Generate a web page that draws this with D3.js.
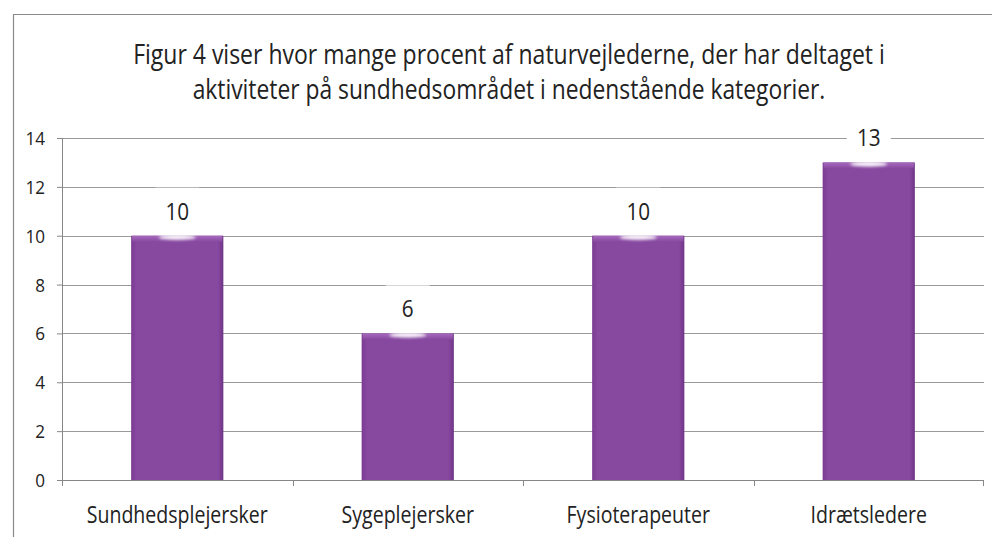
<!DOCTYPE html>
<html>
<head>
<meta charset="utf-8">
<script src="https://cdn.jsdelivr.net/npm/d3@7"></script>
<style>
  html, body { margin: 0; padding: 0; background: #fff; }
  text { font-family: 'Open Sans', 'DejaVu Sans', sans-serif; fill: #222; }
</style>
</head>
<body>
<div id="chart"></div>
<script>
// Data.
var categories = ['Sundhedsplejersker', 'Sygeplejersker', 'Fysioterapeuter', 'Idrætsledere'];
var values = [10, 6, 10, 13];
var yTicks = [0, 2, 4, 6, 8, 10, 12, 14];
var titleLines = [
    'Figur 4 viser hvor mange procent af naturvejlederne, der har deltaget i',
    'aktiviteter på sundhedsområdet i nedenstående kategorier.'
];

var W = 992, H = 537;
var margin = {left: 62, right: 8, top: 138, bottom: 57};
var width = W - margin.left - margin.right,
    height = H - margin.top - margin.bottom;

// Squeeze a text horizontally (around its x) so it looks like the narrow font of the original.
function narrow(sel, k){
    sel.each(function(){
        var t = d3.select(this);
        var x0 = +t.attr('x') || 0, y0 = +t.attr('y') || 0;
        var f = typeof k === 'function' ? k.call(this, this.getComputedTextLength()) : k;
        t.attr('x', 0).attr('y', 0)
         .attr('transform', 'translate(' + x0 + ',' + y0 + ') scale(' + f + ',1)');
    });
}

var svg = d3.select('#chart')
    .append('svg')
        .attr('width', W)
        .attr('height', H);

// Gradients and blur for the bars.
var defs = svg.append('defs');
var side = defs.append('linearGradient').attr('id', 'barSide')
    .attr('x1', '0%').attr('x2', '100%').attr('y1', '0%').attr('y2', '0%');
side.append('stop').attr('offset', '0%').attr('stop-color', '#7a3c91');
side.append('stop').attr('offset', '6%').attr('stop-color', '#8749a0');
side.append('stop').attr('offset', '94%').attr('stop-color', '#8749a0');
side.append('stop').attr('offset', '100%').attr('stop-color', '#6f3486');

var cap = defs.append('linearGradient').attr('id', 'barCap')
    .attr('x1', '0%').attr('x2', '0%').attr('y1', '0%').attr('y2', '100%');
cap.append('stop').attr('offset', '0%').attr('stop-color', '#a76bbd');
cap.append('stop').attr('offset', '100%').attr('stop-color', '#8749a0');

defs.append('filter').attr('id', 'soft')
    .attr('x', '-50%').attr('y', '-100%').attr('width', '200%').attr('height', '300%')
    .append('feGaussianBlur').attr('stdDeviation', 1.6);

// Outer frame.
svg.append('path')
    .attr('d', 'M13.5,' + H + 'V14.5H' + W)
    .attr('fill', 'none')
    .attr('stroke', '#8a8a8a')
    .attr('stroke-width', 1.2);

// Title, squeezed to the widths of the original lines.
var titleWidths = [752, 633];
svg.selectAll('.title')
    .data(titleLines)
    .enter().append('text')
        .attr('class', 'title')
        .attr('x', 509)
        .attr('y', function(d, i){ return 64 + i * 35; })
        .attr('text-anchor', 'middle')
        .attr('font-size', '27px')
        .text(function(d){ return d; })
        .each(function(d, i){
            d3.select(this).call(narrow, function(len){ return titleWidths[i] / len; });
        });

var g = svg.append('g')
    .attr('transform', 'translate(' + margin.left + ',' + margin.top + ')');

var x = d3.scaleBand()
    .domain(categories)
    .range([0, width]);

var xBar = d3.scaleBand()
    .domain(categories)
    .range([0, width])
    .paddingInner(0.6)
    .paddingOuter(0.3);

var y = d3.scaleLinear()
    .domain([0, 14])
    .range([height, 0]);

// Gridlines.
g.selectAll('.grid')
    .data(yTicks.slice(1))
    .enter().append('line')
        .attr('class', 'grid')
        .attr('x1', 0)
        .attr('x2', width)
        .attr('y1', function(d){ return Math.round(y(d)) + 0.5; })
        .attr('y2', function(d){ return Math.round(y(d)) + 0.5; })
        .attr('stroke', '#9a9a9a')
        .attr('stroke-width', 1);

// Y axis.
var yAxis = g.append('g')
    .call(d3.axisLeft(y).tickValues(yTicks).tickSize(5).tickPadding(12));
yAxis.select('.domain').attr('stroke', '#868686');
yAxis.selectAll('.tick line').attr('stroke', '#868686');
yAxis.selectAll('.tick text')
    .attr('font-size', '19px')
    .style('font-family', "'Open Sans', sans-serif")
    .attr('fill', '#222')
    .attr('x', -17)
    .attr('y', 0)
    .attr('dy', '0.34em')
    .call(narrow, 0.9);

// X axis with ticks on the category boundaries.
var xAxis = g.append('g')
    .attr('transform', 'translate(0,' + height + ')');
xAxis.append('line')
    .attr('x1', 0).attr('x2', width)
    .attr('y1', 0.5).attr('y2', 0.5)
    .attr('stroke', '#868686');
xAxis.selectAll('.xtick')
    .data(categories.concat(['end']))
    .enter().append('line')
        .attr('class', 'xtick')
        .attr('x1', function(d){ return d === 'end' ? width - 0.5 : Math.round(x(d)) + 0.5; })
        .attr('x2', function(d){ return d === 'end' ? width - 0.5 : Math.round(x(d)) + 0.5; })
        .attr('y1', 0)
        .attr('y2', 6)
        .attr('stroke', '#868686');
xAxis.selectAll('.xlabel')
    .data(categories)
    .enter().append('text')
        .attr('class', 'xlabel')
        .attr('x', function(d){ return x(d) + x.bandwidth() / 2; })
        .attr('y', 43)
        .attr('text-anchor', 'middle')
        .attr('font-size', '23px')
        .text(function(d){ return d; })
        .call(narrow, 0.85);

// Bars.
var bars = g.selectAll('.bar')
    .data(values)
    .enter().append('g')
        .attr('class', 'bar');

bars.append('rect')
    .attr('x', function(d, i){ return xBar(categories[i]); })
    .attr('y', function(d){ return y(d); })
    .attr('width', xBar.bandwidth())
    .attr('height', function(d){ return height - y(d); })
    .attr('fill', 'url(#barSide)');

bars.append('rect')
    .attr('x', function(d, i){ return xBar(categories[i]) + 1; })
    .attr('y', function(d){ return y(d); })
    .attr('width', xBar.bandwidth() - 2)
    .attr('height', 6)
    .attr('fill', 'url(#barCap)');

bars.append('ellipse')
    .attr('cx', function(d, i){ return xBar(categories[i]) + xBar.bandwidth() / 2; })
    .attr('cy', function(d){ return y(d) + 1.5; })
    .attr('rx', xBar.bandwidth() * 0.2)
    .attr('ry', 2.5)
    .attr('fill', '#fff')
    .attr('opacity', 0.95)
    .attr('filter', 'url(#soft)');

// Value labels with white boxes behind them.
bars.append('rect')
    .attr('x', function(d, i){ return x(categories[i]) + x.bandwidth() / 2 - 22; })
    .attr('y', function(d){ return y(d) - 48; })
    .attr('width', 44)
    .attr('height', 44)
    .attr('fill', '#fff');

bars.append('text')
    .attr('x', function(d, i){ return x(categories[i]) + x.bandwidth() / 2; })
    .attr('y', function(d){ return y(d) - 16; })
    .attr('text-anchor', 'middle')
    .attr('font-size', '23px')
    .text(function(d){ return d; })
    .call(narrow, 0.9);
</script>
</body>
</html>
